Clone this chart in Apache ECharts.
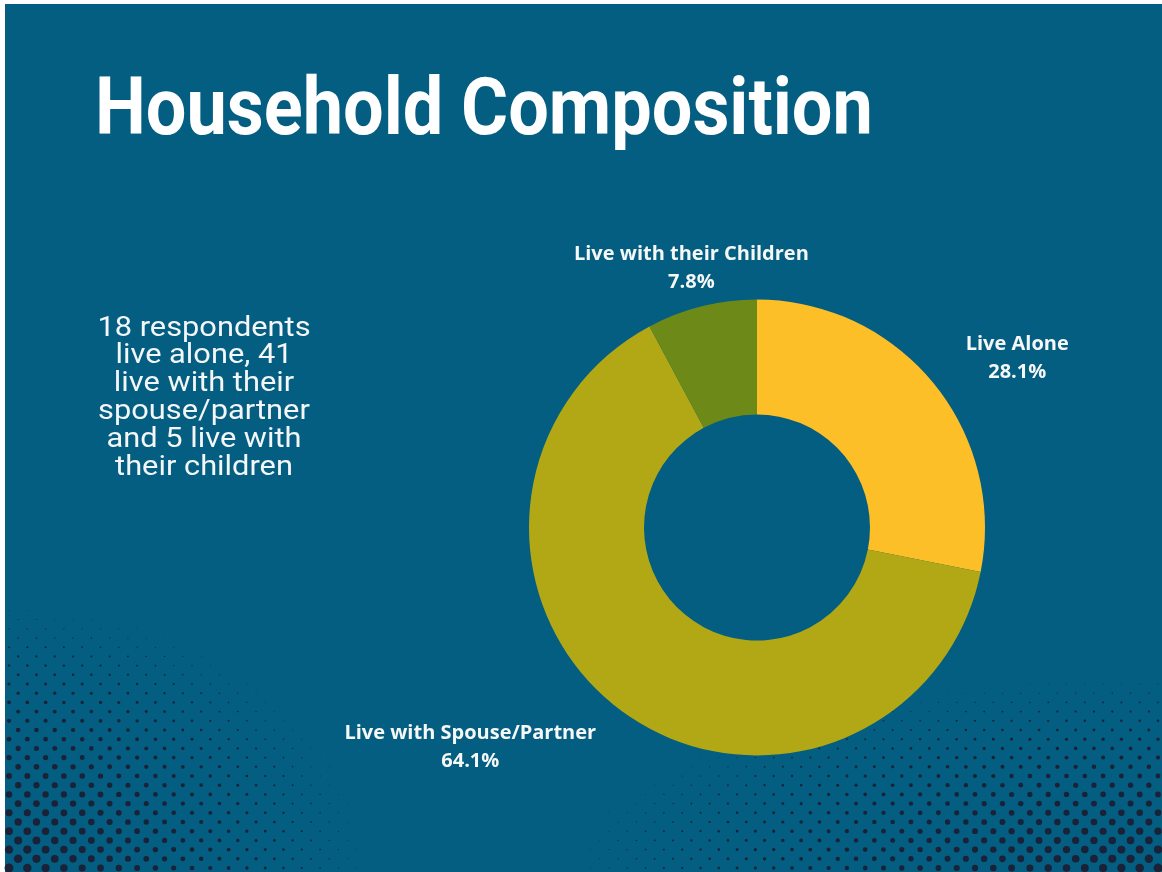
<!DOCTYPE html>
<html>
<head>
<meta charset="utf-8">
<script src="https://cdn.jsdelivr.net/npm/echarts@6/dist/echarts.min.js"></script>
<style>
html,body{margin:0;padding:0;background:#ffffff;}
#chart{width:1162px;height:872px;}
</style>
</head>
<body>
<div id="chart"></div>
<script>
// ---- data ----
var categories = ['Live Alone', 'Live with Spouse/Partner', 'Live with their Children'];
var counts = [18, 41, 5];
var sliceColors = ['#FDBF27', '#B2A815', '#6D8A18'];
var titleText = 'Household Composition';
var noteLines = ['18 respondents', 'live alone, 41', 'live with their', 'spouse/partner', 'and 5 live with', 'their children'];

var W = 1162, H = 872;
var BG = '#035E81';
var DOT = '#1B2136';

// ---- halftone decoration ----
function halftone(cornerX, cornerY, ax, ay, maxR, dirX) {
  var els = [];
  var sx = 18.3, sy = 9.2;
  for (var j = 0; j * sy <= ay + 10; j++) {
    var y = cornerY - 4 - j * sy;
    var off = (j % 2) ? sx / 2 : 0;
    for (var i = 0; i * sx <= ax + 20; i++) {
      var x = cornerX + dirX * (4 + off + i * sx);
      var dx = (x - cornerX) / ax, dy = (y - cornerY) / ay;
      var t = Math.sqrt(dx * dx + dy * dy);
      if (t >= 1) continue;
      var r = maxR * (1 - t);
      if (r < 0.35) continue;
      els.push({
        type: 'circle', silent: true, z: 1,
        shape: { cx: x, cy: y, r: r },
        style: { fill: DOT }
      });
    }
  }
  return els;
}

var graphics = [];
graphics.push({ type: 'rect', silent: true, z: 0, shape: { x: 5, y: 4, width: W - 5, height: H - 4 }, style: { fill: BG } });
graphics = graphics.concat(halftone(5, 872, 385, 285, 4.5, 1));
graphics = graphics.concat(halftone(1162, 872, 630, 210, 4.5, -1));

graphics.push({
  type: 'text', silent: true, z: 5,
  x: 95, y: 114, scaleX: 0.9, scaleY: 1,
  style: {
    x: 0, y: 0, text: titleText,
    fill: '#ffffff', font: 'bold 80px Roboto',
    align: 'left', verticalAlign: 'middle'
  }
});
graphics.push({
  type: 'text', silent: true, z: 5,
  x: 204, y: 398, scaleX: 1.1, scaleY: 1,
  style: {
    x: 0, y: 0, text: noteLines.join('\n'),
    fill: '#F4F6F8', font: '28px Roboto', lineHeight: 27.8,
    align: 'center', verticalAlign: 'middle'
  }
});

var chart = echarts.init(document.getElementById('chart'), null, { renderer: 'canvas' });
chart.setOption({
  backgroundColor: '#ffffff',
  animation: false,
  graphic: { elements: graphics },
  series: [{
    type: 'pie',
    z: 3,
    center: [757, 527.5],
    radius: [113, 228],
    startAngle: 90,
    clockwise: true,
    avoidLabelOverlap: false,
    percentPrecision: 1,
    silent: true,
    itemStyle: { borderWidth: 0 },
    label: {
      show: true,
      position: 'outside',
      distanceToLabelLine: 0,
      formatter: '{n|{b}}\n{p|{d}%}',
      rich: {
        n: { color: '#F6F7F7', fontFamily: 'Open Sans', fontWeight: 'bold', fontSize: 20, lineHeight: 28, align: 'center' },
        p: { color: '#F6F7F7', fontFamily: 'Open Sans', fontWeight: 'bold', fontSize: 20, lineHeight: 28, align: 'center' }
      }
    },
    labelLine: { show: false, length: 42, length2: 0 },
    labelLayout: function (p) {
      if (p.dataIndex === 2) {
        return { dx: p.labelRect.width / 2, dy: 2.5 };
      }
      return { dy: 2.5 };
    },
    data: categories.map(function (c, i) {
      return { name: c, value: counts[i], itemStyle: { color: sliceColors[i] } };
    })
  }]
});
</script>
</body>
</html>
